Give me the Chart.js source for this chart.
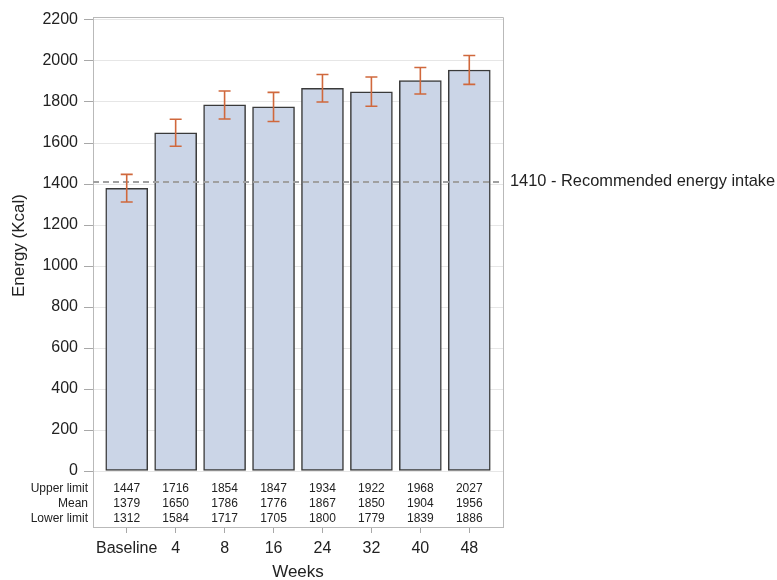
<!DOCTYPE html>
<html>
<head>
<meta charset="utf-8">
<script src="https://cdn.jsdelivr.net/npm/chart.js@4/dist/chart.umd.min.js"></script>
<style>
  html, body { margin: 0; padding: 0; background: #ffffff; }
  #wrap { width: 777px; height: 580px; }
</style>
</head>
<body>
<div id="wrap"><canvas id="c" width="777" height="580"></canvas></div>
<script>
// ---- data ----
const categories = ['Baseline', '4', '8', '16', '24', '32', '40', '48'];
const upperLimit = [1447, 1716, 1854, 1847, 1934, 1922, 1968, 2027];
const meanValues = [1379, 1650, 1786, 1776, 1867, 1850, 1904, 1956];
const lowerLimit = [1312, 1584, 1717, 1705, 1800, 1779, 1839, 1886];
const yTickValues = [0, 200, 400, 600, 800, 1000, 1200, 1400, 1600, 1800, 2000, 2200];
const tableRowLabels = ['Upper limit', 'Mean', 'Lower limit'];
const referenceValue = 1410;
const referenceLabel = '1410 - Recommended energy intake';
const yTitle = 'Energy (Kcal)';
const xTitle = 'Weeks';

const FONT = '"Liberation Sans", Arial, Helvetica, sans-serif';
const TEXT = '#222222';
const FRAME = '#b9b9b9';

const extras = {
  id: 'extras',
  afterDatasetsDraw(chart) {
    const { ctx, chartArea: a, scales: { x, y } } = chart;
    ctx.save();
    // reference line
    const ry = y.getPixelForValue(referenceValue);
    ctx.strokeStyle = '#a0a0a0';
    ctx.lineWidth = 2;
    ctx.setLineDash([6, 4]);
    ctx.beginPath();
    ctx.moveTo(a.left, ry);
    ctx.lineTo(a.right, ry);
    ctx.stroke();
    ctx.setLineDash([]);
    // error bars
    ctx.strokeStyle = '#d0683c';
    ctx.lineWidth = 1.6;
    for (let i = 0; i < categories.length; i++) {
      const cx = x.getPixelForValue(i);
      const yu = y.getPixelForValue(upperLimit[i]);
      const yl = y.getPixelForValue(lowerLimit[i]);
      ctx.beginPath();
      ctx.moveTo(cx, yu); ctx.lineTo(cx, yl);
      ctx.moveTo(cx - 6, yu); ctx.lineTo(cx + 6, yu);
      ctx.moveTo(cx - 6, yl); ctx.lineTo(cx + 6, yl);
      ctx.stroke();
    }
    // frame top & right
    ctx.strokeStyle = FRAME;
    ctx.lineWidth = 1;
    ctx.beginPath();
    ctx.moveTo(a.left, a.top + 0.5); ctx.lineTo(a.right + 0.5, a.top + 0.5);
    ctx.lineTo(a.right + 0.5, a.bottom);
    ctx.stroke();
    // reference label
    ctx.fillStyle = TEXT;
    ctx.font = '16.4px ' + FONT;
    ctx.textAlign = 'left';
    ctx.textBaseline = 'middle';
    ctx.fillText(referenceLabel, a.right + 7, ry);
    // table
    const rowsY = [489, 504, 519];
    const rows = [upperLimit, meanValues, lowerLimit];
    ctx.font = '12px ' + FONT;
    ctx.textAlign = 'right';
    tableRowLabels.forEach((lab, r) => ctx.fillText(lab, a.left - 5, rowsY[r]));
    ctx.textAlign = 'center';
    rows.forEach((arr, r) => {
      arr.forEach((v, i) => ctx.fillText(String(v), x.getPixelForValue(i), rowsY[r]));
    });
    // axis titles
    ctx.font = '17px ' + FONT;
    ctx.textAlign = 'center';
    ctx.textBaseline = 'middle';
    ctx.fillText(xTitle, (a.left + a.right) / 2, 572);
    const ty = (y.getPixelForValue(0) + y.getPixelForValue(2200)) / 2;
    ctx.translate(19, ty);
    ctx.rotate(-Math.PI / 2);
    ctx.fillText(yTitle, 0, 0);
    ctx.restore();
  }
};

new Chart(document.getElementById('c'), {
  type: 'bar',
  data: {
    datasets: [{
      label: 'Mean',
      data: meanValues.map((m, i) => ({ x: i, y: m })),
      backgroundColor: '#cbd5e7',
      borderColor: '#3a3a3a',
      borderWidth: 1.5,
      barThickness: 42,
      borderSkipped: false
    }]
  },
  options: {
    responsive: false,
    animation: false,
    layout: { padding: { top: 17, right: 274, left: 0, bottom: 0 } },
    plugins: { legend: { display: false }, tooltip: { enabled: false } },
    scales: {
      x: {
        type: 'linear',
        offset: false,
        min: -0.689,
        max: 7.689,
        afterBuildTicks: s => { s.ticks = categories.map((c, i) => ({ value: i })); },
        afterFit: s => { s.height = 53; },
        grid: { offset: false, drawOnChartArea: false, tickLength: 6, tickColor: '#a8a8a8' },
        border: { display: true, color: FRAME, width: 1 },
        ticks: {
          callback: v => categories[v],
          font: { family: FONT, size: 16 },
          color: TEXT,
          padding: 6,
          maxRotation: 0,
          autoSkip: false
        }
      },
      y: {
        min: -273,
        max: 2214.6,
        afterBuildTicks: s => { s.ticks = yTickValues.map(v => ({ value: v })); },
        afterFit: s => { s.width = 93; },
        grid: { color: '#e6e6e6', tickLength: 9, tickColor: '#a8a8a8', lineWidth: 1 },
        border: { display: true, color: FRAME, width: 1 },
        ticks: {
          callback: v => String(v),
          font: { family: FONT, size: 16 },
          color: TEXT,
          padding: 6,
          autoSkip: false
        }
      }
    }
  },
  plugins: [extras]
});
</script>
</body>
</html>
